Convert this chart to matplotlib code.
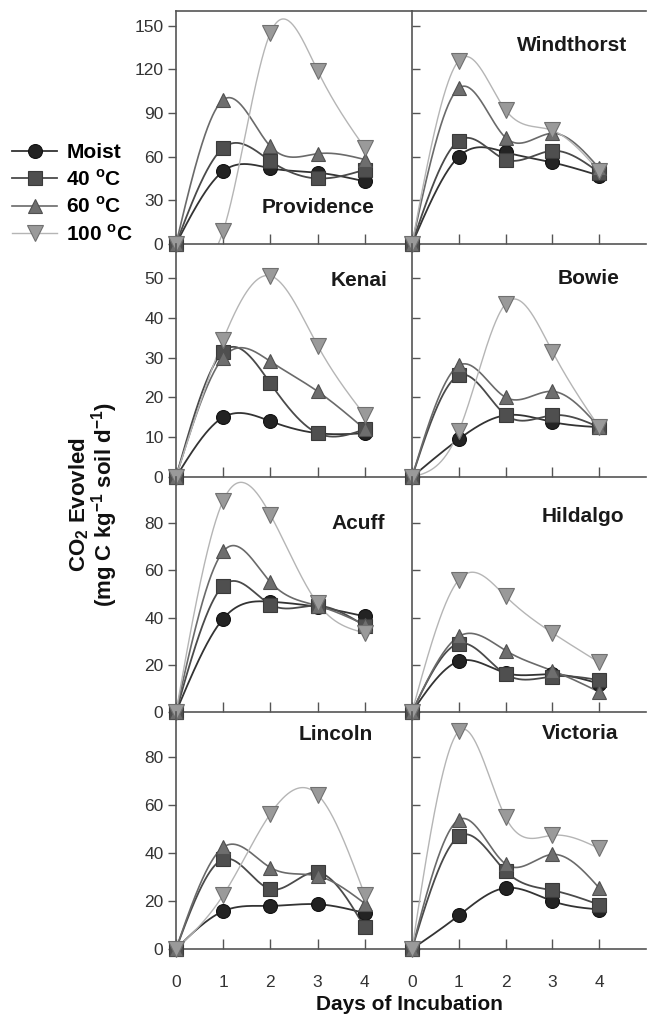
import numpy as np
import matplotlib
matplotlib.use("Agg")
import matplotlib.pyplot as plt
from matplotlib.lines import Line2D

plt.rcParams['font.family'] = ['Liberation Sans', 'DejaVu Sans']
plt.rcParams['mathtext.fontset'] = 'custom'
plt.rcParams['mathtext.rm'] = 'Liberation Sans'
plt.rcParams['mathtext.bf'] = 'Liberation Sans:bold'

days = [0, 1, 2, 3, 4]
treatments = ["Moist", "40 $^{\\mathbf{o}}$C", "60 $^{\\mathbf{o}}$C", "100 $^{\\mathbf{o}}$C"]
sites = ["Providence", "Windthorst", "Kenai", "Bowie", "Acuff", "Hildalgo", "Lincoln", "Victoria"]

providence_moist = [0, 50, 52, 49, 43]
providence_40 = [0, 66, 57, 45, 51]
providence_60 = [0, 99, 67, 62, 58]
providence_100 = [0, 9, 145, 119, 66]

windthorst_moist = [0, 60, 63, 56, 47]
windthorst_40 = [0, 71, 58, 64, 49]
windthorst_60 = [0, 107, 73, 76, 52]
windthorst_100 = [0, 126, 92, 78, 50]

kenai_moist = [0, 15, 14, 11, 11]
kenai_40 = [0, 31.5, 23.5, 11, 12]
kenai_60 = [0, 30, 29, 21.5, 12]
kenai_100 = [0, 34.5, 50.5, 33, 15.5]

bowie_moist = [0, 9.5, 15.5, 13.8, 12.5]
bowie_40 = [0, 25.5, 15.6, 15.5, 12.5]
bowie_60 = [0, 28, 20, 21.5, 12.5]
bowie_100 = [0, 11.5, 43.5, 31.5, 12.5]

acuff_moist = [0, 39.5, 46.7, 44.5, 40.5]
acuff_40 = [0, 53.5, 45.5, 45, 36.5]
acuff_60 = [0, 68, 55, 45, 37]
acuff_100 = [0, 89.5, 83.5, 46, 33.5]

hildalgo_moist = [0, 21.5, 16.5, 16, 12]
hildalgo_40 = [0, 29, 16, 15, 13.5]
hildalgo_60 = [0, 32, 26, 17.5, 8.5]
hildalgo_100 = [0, 56, 49, 33.5, 21]

lincoln_moist = [0, 15.8, 18, 18.7, 15]
lincoln_40 = [0, 37.5, 25, 32, 9]
lincoln_60 = [0, 42.5, 34, 30.5, 19]
lincoln_100 = [0, 22.5, 56.5, 64.5, 22.5]

victoria_moist = [0, 14, 25.5, 20, 16.5]
victoria_40 = [0, 47, 32.5, 24.5, 18.5]
victoria_60 = [0, 54, 35.5, 39.5, 25.5]
victoria_100 = [0, 91, 55, 47.5, 42]

site_data = {
    "Providence": [providence_moist, providence_40, providence_60, providence_100],
    "Windthorst": [windthorst_moist, windthorst_40, windthorst_60, windthorst_100],
    "Kenai": [kenai_moist, kenai_40, kenai_60, kenai_100],
    "Bowie": [bowie_moist, bowie_40, bowie_60, bowie_100],
    "Acuff": [acuff_moist, acuff_40, acuff_60, acuff_100],
    "Hildalgo": [hildalgo_moist, hildalgo_40, hildalgo_60, hildalgo_100],
    "Lincoln": [lincoln_moist, lincoln_40, lincoln_60, lincoln_100],
    "Victoria": [victoria_moist, victoria_40, victoria_60, victoria_100],
}

row_ylims = [160, 58.5, 99.5, 99]
row_yticks = [[0, 30, 60, 90, 120, 150], [0, 10, 20, 30, 40, 50],
              [0, 20, 40, 60, 80], [0, 20, 40, 60, 80]]

# styles
markers = ['o', 's', '^', 'v']
mfc = ['#232323', '#4f4f4f', '#6e6e6e', '#9a9a9a']
mec = ['#111111', '#3a3a3a', '#505050', '#707070']
lcol = ['#333333', '#4a4a4a', '#6a6a6a', '#b5b5b5']
lws = [1.3, 1.3, 1.2, 1.0]
msz = [10, 9.5, 10.5, 11]


def natural_spline(x, y, n=300):
    x = np.asarray(x, float)
    y = np.asarray(y, float)
    k = len(x)
    h = np.diff(x)
    A = np.zeros((k, k))
    r = np.zeros(k)
    A[0, 0] = 1
    A[-1, -1] = 1
    for i in range(1, k - 1):
        A[i, i - 1] = h[i - 1]
        A[i, i] = 2 * (h[i - 1] + h[i])
        A[i, i + 1] = h[i]
        r[i] = 6 * ((y[i + 1] - y[i]) / h[i] - (y[i] - y[i - 1]) / h[i - 1])
    M = np.linalg.solve(A, r)
    xs = np.linspace(x[0], x[-1], n)
    ys = np.empty_like(xs)
    for j, xv in enumerate(xs):
        i = min(np.searchsorted(x, xv, side='right') - 1, k - 2)
        i = max(i, 0)
        t1 = x[i + 1] - xv
        t0 = xv - x[i]
        hi = h[i]
        ys[j] = (M[i] * t1 ** 3 / (6 * hi) + M[i + 1] * t0 ** 3 / (6 * hi)
                 + (y[i] / hi - M[i] * hi / 6) * t1
                 + (y[i + 1] / hi - M[i + 1] * hi / 6) * t0)
    return xs, ys


fig = plt.figure(figsize=(6.47, 10.14), dpi=100)
W, H = 647.0, 1014.0
col_x = [(176, 412), (412, 646)]
row_y = [(11, 244), (244, 477), (477, 712), (712, 949)]
title_pos = {
    "Providence": (0.843, 0.155), "Windthorst": (0.919, 0.854),
    "Kenai": (0.898, 0.845), "Bowie": (0.885, 0.854),
    "Acuff": (0.886, 0.804), "Hildalgo": (0.906, 0.83),
    "Lincoln": (0.835, 0.903), "Victoria": (0.88, 0.911),
}
spine_col = '#555555'

for idx, site in enumerate(sites):
    r, c = divmod(idx, 2)
    x0, x1 = col_x[c]
    yt, yb = row_y[r]
    ax = fig.add_axes([x0 / W, (H - yb) / H, (x1 - x0) / W, (yb - yt) / H])
    ax.set_facecolor('none')
    ser = site_data[site]
    for k in range(4):
        xs, ys = natural_spline(days, ser[k])
        ax.plot(xs, ys, color=lcol[k], lw=lws[k], zorder=2 + k * 0.1)
    for k in range(4):
        ax.plot(days, ser[k], linestyle='none', marker=markers[k], ms=msz[k],
                mfc=mfc[k], mec=mec[k], mew=0.8, zorder=5 + k * 0.1, clip_on=False)
    ax.set_xlim(0, 5)
    ax.set_ylim(0, row_ylims[r])
    ax.set_xticks([0, 1, 2, 3, 4])
    ax.set_yticks(row_yticks[r])
    ax.tick_params(axis='x', direction='in', length=7, width=1, color=spine_col,
                   labelsize=12.5, labelcolor='#333333', pad=19)
    ax.tick_params(axis='y', direction='out' if c == 0 else 'in', length=6, width=1,
                   color=spine_col, labelsize=12.5, labelcolor='#333333', pad=3)
    if r != 3:
        ax.tick_params(axis='x', labelbottom=False)
    if c == 1:
        ax.tick_params(axis='y', labelleft=False)
    for s in ['left', 'bottom']:
        ax.spines[s].set_color(spine_col)
        ax.spines[s].set_linewidth(1.2)
    ax.spines['right'].set_visible(False)
    if r == 0:
        ax.spines['top'].set_color(spine_col)
        ax.spines['top'].set_linewidth(1.2)
    else:
        ax.spines['top'].set_visible(False)
    tx, ty = title_pos[site]
    ax.text(tx, ty, site, transform=ax.transAxes, ha='right', va='center',
            fontsize=15, fontweight='bold', color='#1a1a1a')

# legend
handles = [Line2D([0], [0], color=lcol[k], lw=lws[k], marker=markers[k], ms=msz[k],
                  mfc=mfc[k], mec=mec[k], mew=0.8) for k in range(4)]
fig.legend(handles, treatments, loc='center left', bbox_to_anchor=(0.006, 0.809),
           frameon=False, handlelength=2.15, handletextpad=0.45, labelspacing=0.32,
           prop={'weight': 'bold', 'size': 15}, borderaxespad=0)

# axis labels (anchored on baseline)
fig.text(85 / W, 0.502, "CO$_\\mathbf{2}$ Evovled", rotation=90, ha='center',
         va='baseline', rotation_mode='anchor',
         fontsize=16, fontweight='bold', color='#111111')
fig.text(111 / W, 0.502, "(mg C kg$^{\\mathbf{-1}}$ soil d$^{\\mathbf{-1}}$)", rotation=90,
         ha='center', va='baseline', rotation_mode='anchor',
         fontsize=16, fontweight='bold', color='#111111')
fig.text(409 / W, 1 - 1005 / H, "Days of Incubation", ha='center', va='center',
         fontsize=15, fontweight='bold', color='#111111')

fig.savefig("out.png", dpi=100, facecolor='white')
